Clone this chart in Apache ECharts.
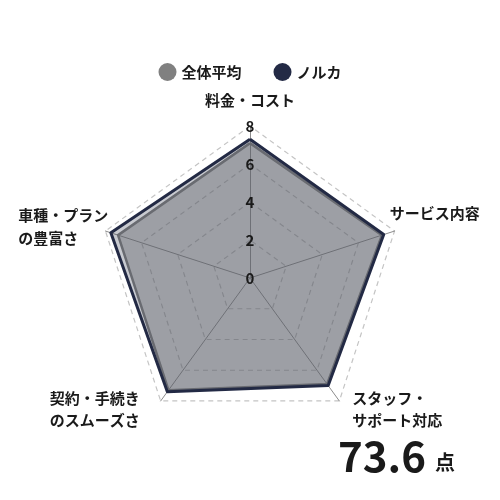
<!DOCTYPE html>
<html>
<head>
<meta charset="utf-8">
<script src="https://cdn.jsdelivr.net/npm/echarts@6/dist/echarts.min.js"></script>
<style>
  html, body { margin: 0; padding: 0; background: #fff; }
  #chart { width: 500px; height: 500px; }
</style>
</head>
<body>
<div id="chart"></div>
<script>
// indicators, counter-clockwise from the top (ECharts default order)
var indicatorNames = ['料金・コスト', '車種・プラン\nの豊富さ', '契約・手続き\nのスムーズさ', 'スタッフ・\nサポート対応', 'サービス内容'];
var indicatorMax = 8;
var seriesNames = ['全体平均', 'ノルカ'];
var avgValues = [7.1, 7.3, 7.3, 6.9, 7.3];
var norukaValues = [7.3, 7.7, 7.4, 7.0, 7.4];
var scoreText = '73.6';
var scoreUnit = '点';

var FONT = '"Noto Sans CJK JP", "Noto Sans", sans-serif';
var TEXT = '#1a1a1a';
var GREY = '#808080';
var NAVY = '#232a45';

// rich key per axis name, used to nudge labels into place
var nameKey = ['top', 'left', 'bl', 'br', 'right'];

function makeIndicators(withLabel) {
    return indicatorNames.map(function (n, i) {
        var item = { name: n, min: 0, max: indicatorMax };
        if (withLabel && i === 0) item.axisLabel = { show: true };
        return item;
    });
}

var chart = echarts.init(document.getElementById('chart'));

var option = {
    animation: false,
    title: {
        text: '{n|' + scoreText + '} {u|' + scoreUnit + '}',
        right: 40,
        bottom: 18,
        textStyle: {
            rich: {
                n: { fontFamily: FONT, fontSize: 42, fontWeight: 'bold', color: TEXT },
                u: { fontFamily: FONT, fontSize: 20, fontWeight: 'bold', color: TEXT, padding: [12, 0, 0, 4] }
            }
        }
    },
    legend: {
        top: 58,
        left: 'center',
        icon: 'circle',
        itemWidth: 18,
        itemHeight: 18,
        itemGap: 32,
        data: seriesNames,
        textStyle: { fontFamily: FONT, fontSize: 15, fontWeight: 'bold', color: TEXT }
    },
    radar: [{
        // grid, spokes and axis names (under the filled areas)
        center: [250, 278],
        radius: 152,
        startAngle: 90,
        splitNumber: 4,
        indicator: makeIndicators(false),
        axisName: {
            color: TEXT,
            fontFamily: FONT,
            fontSize: 15,
            fontWeight: 'bold',
            formatter: function (name) {
                var key = nameKey[indicatorNames.indexOf(name)];
                return name.split('\n').map(function (s) {
                    return '{' + key + '|' + s + '}';
                }).join('\n');
            },
            rich: {
                top: { fontFamily: FONT, fontSize: 15, fontWeight: 'bold', color: TEXT, lineHeight: 22 },
                left: { fontFamily: FONT, fontSize: 15, fontWeight: 'bold', color: TEXT, lineHeight: 23, width: 73, align: 'left' },
                bl: { fontFamily: FONT, fontSize: 15, fontWeight: 'bold', color: TEXT, lineHeight: 22, width: 102, align: 'left', padding: [0, 0, 7, 0] },
                br: { fontFamily: FONT, fontSize: 15, fontWeight: 'bold', color: TEXT, lineHeight: 22, align: 'left', padding: [0, 0, 7, 4] },
                right: { fontFamily: FONT, fontSize: 15, fontWeight: 'bold', color: TEXT, lineHeight: 22, width: 71, align: 'right', padding: [0, 0, 26, 0] }
            }
        },
        axisLine: { show: true, lineStyle: { color: '#8c8c8c', width: 1 } },
        axisTick: { show: false },
        axisLabel: { show: false },
        splitLine: { lineStyle: { color: '#c4c4c4', width: 1.2, type: [5, 4] } },
        splitArea: { show: false }
    }, {
        // same geometry, only the tick numbers, drawn above the areas
        center: [250, 278],
        radius: 152,
        startAngle: 90,
        splitNumber: 4,
        z: 5,
        indicator: makeIndicators(true),
        axisName: { show: false },
        axisLine: { show: false },
        axisTick: { show: false },
        axisLabel: {
            show: false,
            margin: 0,
            align: 'center',
            verticalAlign: 'middle',
            fontFamily: FONT,
            fontSize: 15,
            fontWeight: 'bold',
            color: TEXT
        },
        splitLine: { show: false },
        splitArea: { show: false }
    }],
    series: [{
        type: 'radar',
        radarIndex: 0,
        symbol: 'none',
        data: [
            {
                name: seriesNames[0],
                value: avgValues,
                itemStyle: { color: GREY },
                lineStyle: { color: GREY, width: 2.5 },
                areaStyle: { color: GREY, opacity: 0.45 }
            },
            {
                name: seriesNames[1],
                value: norukaValues,
                itemStyle: { color: NAVY },
                lineStyle: { color: NAVY, width: 3 },
                areaStyle: { color: NAVY, opacity: 0.25 }
            }
        ]
    }]
};

chart.setOption(option);
</script>
</body>
</html>
